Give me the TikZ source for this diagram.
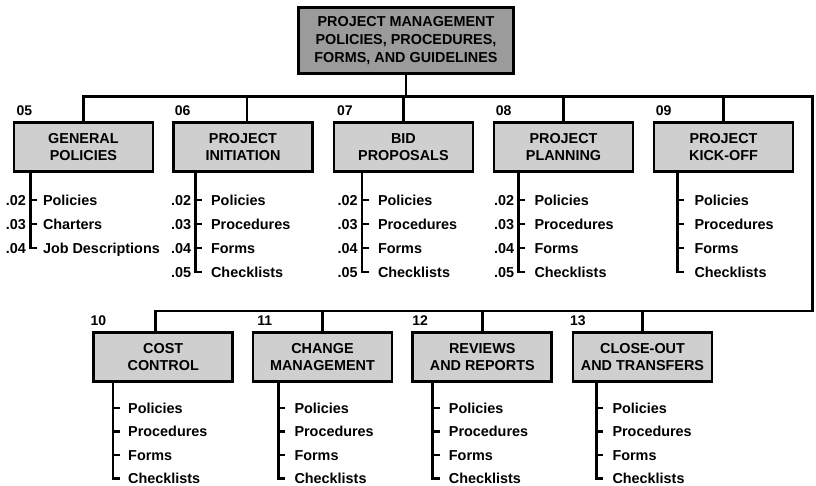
\documentclass[tikz,border=0pt]{standalone}
\usepackage{fontspec}
\setmainfont{Liberation Sans}
\usetikzlibrary{positioning, calc}
\definecolor{headfill}{RGB}{155,155,155}
\definecolor{groupfill}{RGB}{207,207,207}

\tikzset{
  headbox/.style={draw, line width=2.8pt, fill=headfill, minimum width=215pt, minimum height=66pt,
    inner sep=0pt, align=center, font=\bfseries\fontsize{14.4}{18.4}\selectfont},
  groupbox/.style={draw, line width=2.8pt, fill=groupfill, minimum width=139pt, minimum height=49.5pt,
    inner sep=0pt, align=center, font=\bfseries\fontsize{14.4}{17}\selectfont},
  wire/.style={line width=2.6pt},
  item/.style={anchor=base west, inner sep=0pt, font=\bfseries\fontsize{14.4}{17}\selectfont},
  code/.style={anchor=base east, inner sep=0pt, font=\bfseries\fontsize{14.4}{17}\selectfont},
  boxcode/.style={anchor=base west, inner sep=0pt, font=\bfseries\fontsize{14}{17}\selectfont},
}

% first item below the box and spacing of the items
\def\itemfirst{27}
\def\itemstep{24}

% branch under a box: #1 box, #2 line offset, #3 gap to text, #4 number of items, #5 items
\newcommand{\branchlist}[5]{%
  \foreach \txt [count=\i] in {#5} {
    \coordinate (#1-t\i) at ($(#1.south west)+(#2,\itemfirst+\itemstep*\i-\itemstep)$);
    \coordinate (#1-e\i) at ($(#1-t\i)+(7,0)$);
    \node[item] (#1-i\i) at ($(#1-t\i)+(#3,5.2)$) {\txt};
    \draw[wire] (#1-t\i) -- (#1-e\i);
  }
  \draw[wire] (#1-t1 |- #1.south) -- (#1-t#4) -- (#1-e#4);
}

\begin{document}
\begin{tikzpicture}[x=1pt, y=-1pt]
  \useasboundingbox (0,0) rectangle (816,486);
  % Top box
  \node[headbox] (pm) at (406,40.5) {PROJECT MANAGEMENT\\POLICIES, PROCEDURES,\\FORMS, AND GUIDELINES};
  % First row
  \node[groupbox] (gp) at (83.4,147) {GENERAL\\POLICIES};
  \node[groupbox] (pi) at (243,147) {PROJECT\\INITIATION};
  \node[groupbox] (bp) at (403.4,147) {BID\\PROPOSALS};
  \node[groupbox] (pp) at (563.5,147) {PROJECT\\PLANNING};
  \node[groupbox] (pk) at (723.5,147) {PROJECT\\KICK-OFF};
  % Second row
  \node[groupbox] (cc) at (163.2,357) {COST\\CONTROL};
  \node[groupbox] (cm) at (322.5,357) {CHANGE\\MANAGEMENT};
  \node[groupbox] (rr) at (482.3,357) {REVIEWS\\AND REPORTS};
  \node[groupbox] (co) at (642.5,357) {CLOSE-OUT\\AND TRANSFERS};
  % Group numbers
  \foreach \b/\dx/\n in {gp/4/05, pi/2.5/06, bp/4.5/07, pp/3/08, pk/3/09,
                         cc/-1.8/10, cm/5.5/11, rr/0.7/12, co/-1.8/13}
    \node[boxcode] (\b-no) at ($(\b.north west)+(\dx,-5)$) {\n};

  % Bus lines
  \coordinate (busA) at (0,96.8);
  \coordinate (busB) at (0,311);
  \coordinate (busR) at (812.3,96.8);
  \coordinate (cc-in) at ($(cc.north)+(-8,0)$);
  \coordinate (pi-in) at ($(pi.north)+(4,0)$);
  \draw[wire] (pm.south) -- (pm.south |- busA);
  \draw[wire] (gp.north) -- (gp.north |- busA) -- (busR) -- (busR |- busB) -- (cc-in |- busB) -- (cc-in);
  \draw[wire] (pi-in) -- (pi-in |- busA);
  \foreach \b in {bp, pp, pk}
    \draw[wire] (\b.north) -- (\b.north |- busA);
  \foreach \b in {cm, rr, co}
    \draw[wire] (\b.north) -- (\b.north |- busB);

  % Item lists
  \branchlist{gp}{17.7}{12.6}{3}{Policies, Charters, Job Descriptions}
  \branchlist{pi}{23.3}{15.5}{4}{Policies, Procedures, Forms, Checklists}
  \branchlist{bp}{29.3}{16}{4}{Policies, Procedures, Forms, Checklists}
  \branchlist{pp}{25.7}{16}{4}{Policies, Procedures, Forms, Checklists}
  \branchlist{pk}{24.7}{17}{4}{Policies, Procedures, Forms, Checklists}
  \def\itemfirst{24.8}
  \def\itemstep{23.5}
  \branchlist{cc}{20.7}{15}{4}{Policies, Procedures, Forms, Checklists}
  \branchlist{cm}{26.7}{16}{4}{Policies, Procedures, Forms, Checklists}
  \branchlist{rr}{21.3}{16}{4}{Policies, Procedures, Forms, Checklists}
  \branchlist{co}{24.7}{16}{4}{Policies, Procedures, Forms, Checklists}
  % Item numbers
  \foreach \c [count=\i] in {.02, .03, .04}
    \node[code] (gp-c\i) at ($(gp-t\i)+(-4,5.2)$) {\c};
  \foreach \b in {pi, bp, pp}
    \foreach \c [count=\i] in {.02, .03, .04, .05}
      \node[code] (\b-c\i) at ($(\b-t\i)+(-4,5.2)$) {\c};
\end{tikzpicture}
\end{document}
